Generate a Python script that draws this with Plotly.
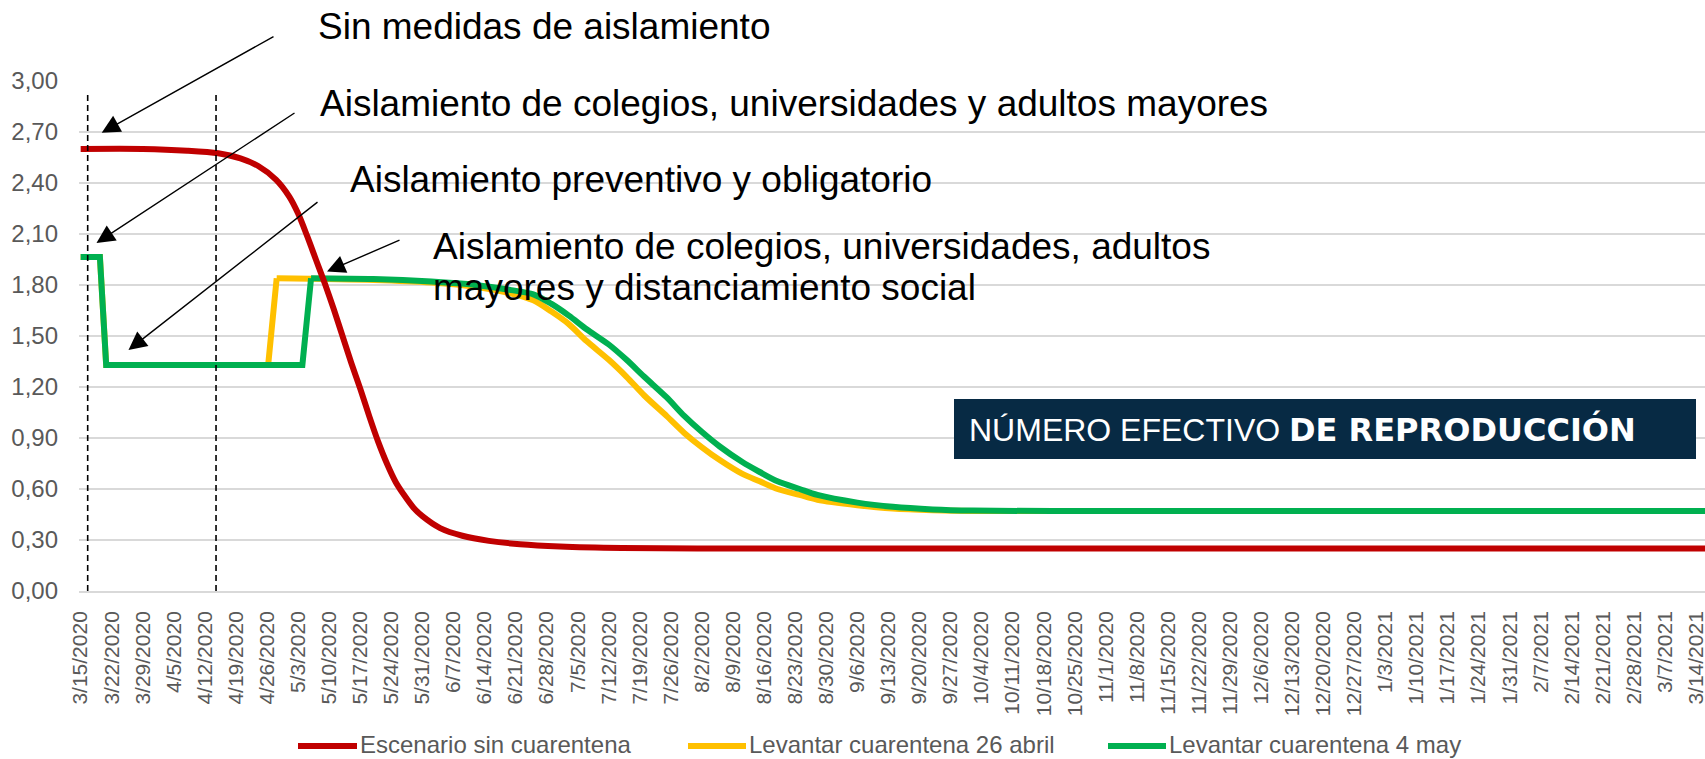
import pandas as pd
import plotly.graph_objects as go

# values
red_dates = ["2020-03-15", "2020-03-29", "2020-04-08", "2020-04-15", "2020-04-20", "2020-04-24",
             "2020-04-28", "2020-05-01", "2020-05-03", "2020-05-05", "2020-05-07", "2020-05-09",
             "2020-05-11", "2020-05-13", "2020-05-15", "2020-05-17", "2020-05-19", "2020-05-21",
             "2020-05-23", "2020-05-25", "2020-05-27", "2020-05-29", "2020-05-31", "2020-06-04",
             "2020-06-09", "2020-06-15", "2020-06-22", "2020-07-01", "2020-07-15", "2020-08-01",
             "2021-03-16"]
red_values = [2.60, 2.60, 2.59, 2.575, 2.545, 2.50,
              2.42, 2.32, 2.22, 2.09, 1.95, 1.81,
              1.66, 1.50, 1.34, 1.19, 1.03, 0.88,
              0.75, 0.64, 0.56, 0.49, 0.44, 0.37,
              0.325, 0.295, 0.275, 0.262, 0.253, 0.25,
              0.25]

yellow_dates = ["2020-03-15", "2020-03-19 08:00", "2020-03-20 18:00", "2020-04-26 06:00", "2020-04-28 04:00",
                "2020-05-20", "2020-06-02", "2020-06-12", "2020-06-20", "2020-06-25", "2020-06-29",
                "2020-07-03", "2020-07-07", "2020-07-12", "2020-07-16", "2020-07-20", "2020-07-25",
                "2020-07-29", "2020-08-02", "2020-08-06", "2020-08-11", "2020-08-15", "2020-08-19",
                "2020-08-24", "2020-08-28", "2020-09-06", "2020-09-14", "2020-09-23", "2020-10-02",
                "2021-03-16"]
yellow_values = [1.965, 1.965, 1.33, 1.33, 1.84,
                 1.83, 1.815, 1.79, 1.75, 1.71, 1.645,
                 1.57, 1.47, 1.36, 1.26, 1.15, 1.03,
                 0.93, 0.845, 0.77, 0.69, 0.645, 0.60,
                 0.565, 0.537, 0.505, 0.485, 0.475, 0.47,
                 0.47]

green_dates = ["2020-03-15", "2020-03-19 08:00", "2020-03-20 18:00", "2020-05-03 23:00", "2020-05-05 22:00",
               "2020-05-20", "2020-06-02", "2020-06-12", "2020-06-20", "2020-06-25", "2020-06-29",
               "2020-07-03", "2020-07-07", "2020-07-12", "2020-07-16", "2020-07-20", "2020-07-25",
               "2020-07-29", "2020-08-02", "2020-08-06", "2020-08-11", "2020-08-15", "2020-08-19",
               "2020-08-24", "2020-08-28", "2020-09-06", "2020-09-14", "2020-09-23", "2020-10-02",
               "2020-10-20", "2021-03-16"]
green_values = [1.965, 1.965, 1.33, 1.33, 1.84,
                1.835, 1.82, 1.80, 1.77, 1.745, 1.69,
                1.62, 1.54, 1.45, 1.36, 1.26, 1.14,
                1.03, 0.935, 0.85, 0.76, 0.70, 0.645,
                0.60, 0.565, 0.52, 0.495, 0.48, 0.473,
                0.47, 0.47]

series_names = ["Escenario sin cuarentena", "Levantar cuarentena 26 abril", "Levantar cuarentena 4 may"]
series_colors = ["#C00000", "#FFC000", "#00B050"]

tick_dates = pd.date_range("2020-03-15", "2021-03-14", freq="7D")
y_ticks = [0.0, 0.3, 0.6, 0.9, 1.2, 1.5, 1.8, 2.1, 2.4, 2.7, 3.0]

# event markers (dashed lines)
event_dates = ["2020-03-16 14:00", "2020-04-14 12:00"]

labels = ["Sin medidas de aislamiento",
          "Aislamiento de colegios, universidades y adultos mayores",
          "Aislamiento preventivo y obligatorio",
          "Aislamiento de colegios, universidades, adultos",
          "mayores y distanciamiento social"]

W, H = 1705, 759
L, R, T, B = 79, 0, 81, 168
FONT = "Arial, Liberation Sans, sans-serif"


def px(x):
    return (x - L) / (W - L - R)


def py(y):
    return (H - B - y) / (H - T - B)


fig = go.Figure()
# yellow and green: straight steps, then a smoothed decline from the step top onward
step_end = {1: 5, 2: 5}
for idx in [1, 2, 0]:
    d = [red_dates, yellow_dates, green_dates][idx]
    v = [red_values, yellow_values, green_values][idx]
    color = series_colors[idx]
    if idx in step_end:
        k = step_end[idx]
        fig.add_trace(go.Scatter(x=d[:k], y=v[:k], mode="lines", name=series_names[idx],
                                 showlegend=False, line=dict(color=color, width=6)))
        fig.add_trace(go.Scatter(x=d[k - 1:], y=v[k - 1:], mode="lines", name=series_names[idx],
                                 showlegend=False,
                                 line=dict(color=color, width=6, shape="spline", smoothing=0.8)))
    else:
        fig.add_trace(go.Scatter(x=d, y=v, mode="lines", name=series_names[idx], showlegend=False,
                                 line=dict(color=color, width=6, shape="spline", smoothing=0.8)))

for ed in event_dates:
    fig.add_shape(type="line", xref="x", yref="paper", x0=ed, x1=ed, y0=0, y1=py(93),
                  line=dict(color="black", width=1.6, dash="6px,4px"))

# title box
fig.add_shape(type="rect", xref="paper", yref="paper", x0=px(954), x1=px(1696), y0=py(459), y1=py(399),
              fillcolor="#072A44", line=dict(width=0), layer="above")

annotations = []
text_pos = [(316, 27), (318, 104), (348, 179.5), (431, 246.5), (431, 287.5)]
for txt, (tx, ty) in zip(labels, text_pos):
    annotations.append(dict(text=txt, xref="paper", yref="paper", x=px(tx), y=py(ty),
                            xanchor="left", yanchor="middle", showarrow=False,
                            font=dict(family=FONT, size=37, color="black")))

arrows = [((275, 35.7), (101.7, 132.7)),
          ((296, 112), (96.5, 243)),
          ((319, 201), (128.5, 350)),
          ((401, 239.5), (327, 271.5))]
for (tx, ty), (hx, hy) in arrows:
    annotations.append(dict(text="", xref="paper", yref="paper", x=px(hx), y=py(hy),
                            ax=tx - hx, ay=ty - hy, showarrow=True, arrowhead=2,
                            arrowsize=2.6, arrowwidth=1.4, arrowcolor="black", standoff=0))

annotations.append(dict(
    text="NÚMERO EFECTIVO <span style=\"font-family:'DejaVu Sans'\"><b>DE REPRODUCCIÓN</b></span>",
    xref="paper", yref="paper", x=px(967), y=py(429), xanchor="left", yanchor="middle",
    showarrow=False, font=dict(family=FONT, size=32, color="white")))

# legend drawn by hand: longer line samples than plotly's built-in legend
legend_line_x = [(298, 357), (688, 746), (1108, 1166)]
legend_y = 746
for name, color, (x0, x1) in zip(series_names, series_colors, legend_line_x):
    fig.add_shape(type="line", xref="paper", yref="paper", x0=px(x0), x1=px(x1),
                  y0=py(legend_y), y1=py(legend_y), line=dict(color=color, width=6))
    annotations.append(dict(text=name, xref="paper", yref="paper", x=px(x1 + 1), y=py(legend_y - 2),
                            xanchor="left", yanchor="middle", showarrow=False,
                            font=dict(family=FONT, size=24, color="#595959")))

fig.update_layout(
    width=W, height=H,
    margin=dict(l=L, r=R, t=T, b=B, pad=0, autoexpand=False),
    paper_bgcolor="white", plot_bgcolor="white",
    separators=",.",
    font=dict(family=FONT, color="#595959"),
    showlegend=False,
    annotations=annotations,
)
fig.update_xaxes(
    type="date", range=["2020-03-14 15:00", "2021-03-16"],
    tickvals=tick_dates, tickformat="%-m/%-d/%Y", tickangle=-90,
    tickfont=dict(family=FONT, size=21, color="#595959"),
    showgrid=False, showline=True, linecolor="#D9D9D9", linewidth=1.5,
    ticks="", ticklabelstandoff=10, zeroline=False, ticklabeloverflow="allow",
    automargin=False,
)
fig.update_yaxes(
    range=[0, 3.0], tickvals=y_ticks, tickformat=".2f",
    tickfont=dict(family=FONT, size=24, color="#595959"),
    showgrid=True, gridcolor="#D9D9D9", gridwidth=1.5, zeroline=False,
    ticks="", ticklabelstandoff=20, showline=False, automargin=False,
)

fig.write_html("out.html", config={"displayModeBar": False},
               post_script="document.body.style.margin='0';")
